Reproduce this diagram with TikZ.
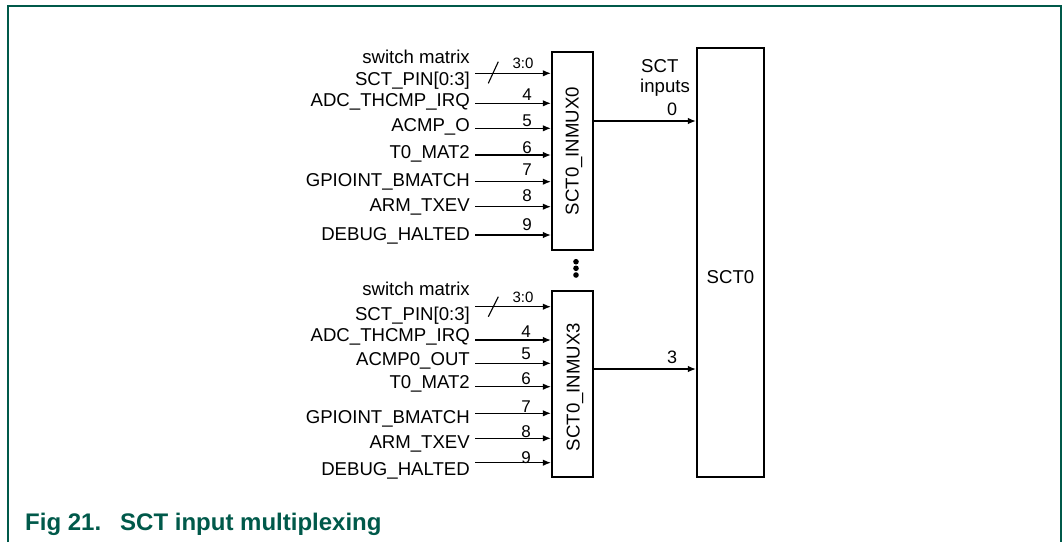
\documentclass[tikz,border=0pt]{standalone}
\usepackage{fontspec}
\setmainfont{Liberation Sans}
\usetikzlibrary{arrows.meta,calc}
\definecolor{nxpgreen}{HTML}{00594A}
\tikzset{
  arr/.style={line width=1.1pt,-{Latex[length=8pt,width=6.5pt]}},
  boxst/.style={draw,line width=2.4pt,inner sep=0pt},
  lbl/.style={anchor=base east,inner sep=0pt,font=\fontsize{18.6}{21}\selectfont},
  num/.style={anchor=base,inner sep=0pt,font=\fontsize{17}{19}\selectfont},
  bus/.style={anchor=base,inner sep=0pt,font=\fontsize{15}{17}\selectfont},
  txt/.style={inner sep=0pt,font=\fontsize{18.6}{21}\selectfont},
  slash/.style={line width=1.1pt},
}
\begin{document}
\begin{tikzpicture}[x=1pt,y=-1pt]
\useasboundingbox (0,0) rectangle (1063,542);
% frame
\draw[nxpgreen,line width=1.5pt] (8,542) -- (8,6) -- (1061,6) -- (1061,542);
% boxes
\node[boxst,minimum width=41pt,minimum height=198pt] (mux0) at (572.5,151) {};
\node[boxst,minimum width=41pt,minimum height=186pt] (mux3) at (572.5,384) {};
\node[boxst,minimum width=67pt,minimum height=429pt] (sct0) at (730.5,262.5) {};
\node[txt,rotate=90] (mux0lbl) at (574,151) {SCT0\_INMUX0};
\node[txt,rotate=90] (mux3lbl) at (575,387) {SCT0\_INMUX3};
\node[txt] (sctlbl) at (730.5,277.5) {SCT0};
% dots
\foreach \yy [count=\k] in {261.7,268.3,275}
  \fill (576,\yy) circle[radius=2.8pt] coordinate (dot\k);
% MUX0 inputs
\node[txt,anchor=base east] (sw0) at (470,63) {switch matrix};
\foreach \ay/\lb/\txtv/\nm/\nb [count=\k] in {
  73.3/85/SCT\_PIN[0:3]/3:0/68,
  103.3/106.7/ADC\_THCMP\_IRQ/4/100,
  128.3/131.7/ACMP\_O/5/126.7,
  155/158.3/T0\_MAT2/6/153,
  181.7/186.7/GPIOINT\_BMATCH/7/175,
  206.7/211.7/ARM\_TXEV/8/201.7,
  235/240/DEBUG\_HALTED/9/230}{
  \node[lbl] (a\k) at (470,\lb) {\txtv};
  \coordinate (as\k) at (475,\ay);
  \draw[arr] (as\k) -- (as\k -| mux0.west);
  \ifnum\k=1
    \node[bus] (an\k) at (523,\nb) {\nm};
  \else
    \node[num] (an\k) at (527,\nb) {\nm};
  \fi
}
\coordinate (sl0a) at (488.3,83.3);
\coordinate (sl0b) at (498.3,61.7);
\draw[slash] (sl0a) -- (sl0b);
% MUX3 inputs
\node[txt,anchor=base east] (sw3) at (470,295) {switch matrix};
\foreach \ay/\lb/\txtv/\nm/\nb [count=\k] in {
  306.7/320/SCT\_PIN[0:3]/3:0/302,
  340/341.7/ADC\_THCMP\_IRQ/4/337,
  363.3/365/ACMP0\_OUT/5/359,
  386.7/388/T0\_MAT2/6/384,
  413.3/423/GPIOINT\_BMATCH/7/412,
  438.3/448/ARM\_TXEV/8/437,
  462.7/475/DEBUG\_HALTED/9/463}{
  \node[lbl] (b\k) at (470,\lb) {\txtv};
  \coordinate (bs\k) at (475,\ay);
  \draw[arr] (bs\k) -- (bs\k -| mux3.west);
  \ifnum\k=1
    \node[bus] (bn\k) at (523,\nb) {\nm};
  \else
    \node[num] (bn\k) at (526,\nb) {\nm};
  \fi
}
\coordinate (sl3a) at (488.3,316.7);
\coordinate (sl3b) at (498.3,296.7);
\draw[slash] (sl3a) -- (sl3b);
% outputs
\coordinate (o0) at (600,121);
\coordinate (o3) at (600,369);
\draw[arr] (o0 -| mux0.east) -- (o0 -| sct0.west);
\draw[arr] (o3 -| mux3.east) -- (o3 -| sct0.west);
\node[txt,anchor=base west] (sct) at (641,72) {SCT};
\node[txt,anchor=base west] (inp) at (640,92.5) {inputs};
\node[num,font=\fontsize{18}{20}\selectfont] (out0) at (672,115) {0};
\node[num,font=\fontsize{18}{20}\selectfont] (out3) at (672,363) {3};
% caption
\node[anchor=base west,inner sep=0pt,text=nxpgreen,font=\fontsize{24}{26}\selectfont\bfseries] (cap) at (25,530) {\makebox[95pt][l]{Fig 21.}SCT input multiplexing};
\end{tikzpicture}
\end{document}
